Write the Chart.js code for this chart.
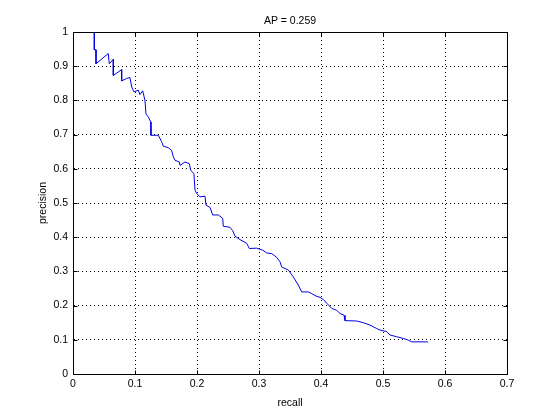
<!DOCTYPE html>
<html>
<head>
<meta charset="utf-8">
<script src="https://cdn.jsdelivr.net/npm/chart.js@4/dist/chart.umd.min.js"></script>
<style>
  html, body { margin: 0; padding: 0; background: #fff; }
  #wrap { width: 560px; height: 420px; }
</style>
</head>
<body>
<div id="wrap"><canvas id="prChart" width="560" height="420"></canvas></div>
<script>
// precision / recall curve
const recall = [
  0.0344, 0.0344, 0.0371, 0.0371, 0.0569, 0.0585, 0.065, 0.065, 0.0785, 0.0785,
  0.0866, 0.0919, 0.0947, 0.0984, 0.1053, 0.108, 0.1124, 0.1161, 0.1177, 0.1215,
  0.1253, 0.1258, 0.135, 0.1376, 0.143, 0.1457, 0.1537, 0.159, 0.1618, 0.1645,
  0.1715, 0.1726, 0.1806, 0.1876, 0.19, 0.195, 0.1968, 0.1995, 0.2048, 0.2129,
  0.2145, 0.221, 0.2253, 0.2344, 0.2415, 0.2424, 0.2532, 0.2576, 0.2613, 0.2694,
  0.2802, 0.2844, 0.2963, 0.306, 0.3124, 0.3205, 0.3286, 0.3339, 0.3366, 0.3473,
  0.3553, 0.3634, 0.3689, 0.3795, 0.385, 0.392, 0.3984, 0.4037, 0.4092, 0.4173,
  0.4253, 0.4307, 0.4371, 0.4387, 0.4576, 0.4682, 0.479, 0.4898, 0.4952, 0.506,
  0.5113, 0.5221, 0.5327, 0.5408, 0.5463, 0.5705, 0.573
];
const precision = [
  1.0, 0.948, 0.948, 0.907, 0.937, 0.907, 0.92, 0.873, 0.89, 0.857,
  0.864, 0.867, 0.839, 0.825, 0.83, 0.817, 0.828, 0.80, 0.76, 0.752,
  0.737, 0.698, 0.698, 0.698, 0.679, 0.666, 0.662, 0.654, 0.635, 0.625,
  0.62, 0.61, 0.62, 0.615, 0.595, 0.586, 0.5375, 0.528, 0.518, 0.52,
  0.494, 0.487, 0.465, 0.465, 0.455, 0.432, 0.429, 0.419, 0.403, 0.393,
  0.382, 0.367, 0.368, 0.362, 0.354, 0.352, 0.341, 0.328, 0.313, 0.304,
  0.284, 0.26, 0.24, 0.24, 0.235, 0.228, 0.224, 0.218, 0.207, 0.192,
  0.186, 0.177, 0.172, 0.156, 0.155, 0.15, 0.143, 0.133, 0.1285, 0.124,
  0.114, 0.109, 0.104, 0.099, 0.094, 0.094, 0.093
];
const xTicks = [0, 0.1, 0.2, 0.3, 0.4, 0.5, 0.6, 0.7];
const yTicks = [0, 0.1, 0.2, 0.3, 0.4, 0.5, 0.6, 0.7, 0.8, 0.9, 1];
const titleText = 'AP = 0.259';

const font = { family: '"Liberation Sans", Arial, sans-serif', size: 10.5, weight: 'normal' };
const points = recall.map((r, i) => ({ x: r, y: precision[i] }));

// matlab style: closed box and short ticks pointing inwards
const boxAndTicks = {
  id: 'boxAndTicks',
  afterDraw(chart) {
    const { ctx, chartArea: a, scales: { x, y } } = chart;
    const L = Math.round(a.left) + 0.5, R = Math.round(a.right) + 0.5;
    const T = Math.round(a.top) + 0.5, B = Math.round(a.bottom) + 0.5;
    const len = 4;
    ctx.save();
    ctx.strokeStyle = '#000';
    ctx.lineWidth = 1;
    ctx.beginPath();
    ctx.rect(L, T, R - L, B - T);
    xTicks.forEach(v => {
      const px = Math.round(x.getPixelForValue(v)) + 0.5;
      ctx.moveTo(px, B); ctx.lineTo(px, B - len);
      ctx.moveTo(px, T); ctx.lineTo(px, T + len);
    });
    yTicks.forEach(v => {
      const py = Math.round(y.getPixelForValue(v)) + 0.5;
      ctx.moveTo(L, py); ctx.lineTo(L + len, py);
      ctx.moveTo(R, py); ctx.lineTo(R - len, py);
    });
    ctx.stroke();
    ctx.restore();
  }
};

const gridStyle = {
  color: '#000',
  lineWidth: 1,
  drawTicks: false
};

new Chart(document.getElementById('prChart').getContext('2d'), {
  type: 'line',
  data: {
    datasets: [{
      label: 'PR',
      data: points,
      borderColor: '#0000e0',
      borderWidth: 1,
      pointRadius: 0,
      tension: 0,
      fill: false
    }]
  },
  options: {
    responsive: false,
    animation: false,
    events: [],
    layout: { padding: { left: 0, right: 53, top: 0, bottom: 0 } },
    plugins: {
      legend: { display: false },
      tooltip: { enabled: false },
      title: {
        display: true,
        text: titleText,
        fullSize: false,
        color: '#000',
        font: font,
        padding: { top: 15, bottom: 4.4 }
      }
    },
    scales: {
      x: {
        type: 'linear',
        min: 0,
        max: 0.7,
        afterBuildTicks: s => { s.ticks = xTicks.map(v => ({ value: v })); },
        afterFit: s => { s.height = 46; },
        grid: gridStyle,
        border: { display: true, color: '#000', width: 1, dash: [1, 3] },
        ticks: {
          color: '#000',
          font: font,
          padding: 4,
          maxRotation: 0,
          callback: v => String(+v.toFixed(1))
        },
        title: {
          display: true,
          text: 'recall',
          color: '#000',
          font: font,
          padding: { top: 0, bottom: 11 }
        }
      },
      y: {
        type: 'linear',
        min: 0,
        max: 1,
        afterBuildTicks: s => { s.ticks = yTicks.map(v => ({ value: v })); },
        afterFit: s => { s.width = 73; },
        grid: gridStyle,
        border: { display: true, color: '#000', width: 1, dash: [1, 3] },
        ticks: {
          color: '#000',
          font: font,
          padding: 5,
          callback: v => String(+v.toFixed(1))
        },
        title: {
          display: true,
          text: 'precision',
          color: '#000',
          font: font,
          padding: { top: 37, bottom: 0 }
        }
      }
    }
  },
  plugins: [boxAndTicks]
});
</script>
</body>
</html>
